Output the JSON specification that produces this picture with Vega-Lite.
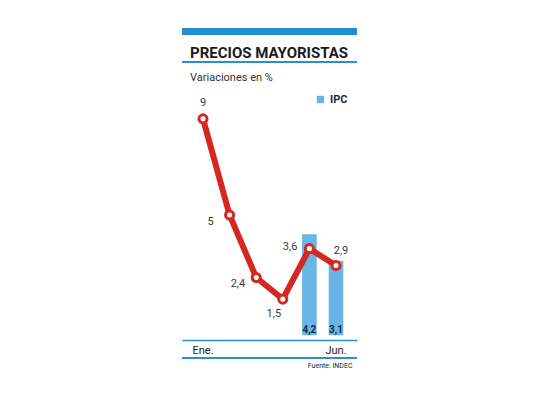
{
  "$schema": "https://vega.github.io/schema/vega-lite/v6.json",
  "description": "Precios mayoristas: variaciones mensuales en %, con IPC de mayo y junio.",
  "autosize": "none",
  "width": 175,
  "height": 250,
  "padding": {"left": 182, "top": 90, "right": 183, "bottom": 65},
  "background": "white",
  "title": {
    "text": "PRECIOS MAYORISTAS",
    "subtitle": "Variaciones en %",
    "anchor": "start",
    "frame": "group",
    "dx": 8,
    "offset": -55,
    "font": "Roboto",
    "fontSize": 15,
    "fontWeight": "bold",
    "color": "#1a1a1a",
    "subtitleFont": "Roboto",
    "subtitleFontSize": 11,
    "subtitleColor": "#333333",
    "subtitlePadding": 11
  },
  "data": {
    "values": [
      {"mes": "Ene.", "mayorista": 9, "ipc": null},
      {"mes": "Feb.", "mayorista": 5, "ipc": null},
      {"mes": "Mar.", "mayorista": 2.4, "ipc": null},
      {"mes": "Abr.", "mayorista": 1.5, "ipc": null},
      {"mes": "May.", "mayorista": 3.6, "ipc": 4.2},
      {"mes": "Jun.", "mayorista": 2.9, "ipc": 3.1}
    ]
  },
  "layer": [
    {
      "mark": {"type": "rule", "clip": false, "color": "#1e8fd0", "strokeWidth": 7},
      "encoding": {"y": {"datum": 12.63, "type": "quantitative", "scale": {"domain": [-0.2, 10.2], "nice": false, "zero": false}, "axis": null}}
    },
    {
      "mark": {"type": "rule", "clip": false, "color": "#2b8fcc", "strokeWidth": 1.5},
      "encoding": {"y": {"datum": 11.36, "type": "quantitative"}}
    },
    {
      "mark": {"type": "rule", "clip": false, "color": "#2b8fcc", "strokeWidth": 1.5},
      "encoding": {"y": {"datum": -0.95, "type": "quantitative"}}
    },
    {
      "encoding": {
        "x": {
          "field": "mes",
          "type": "ordinal",
          "sort": ["Ene.", "Feb.", "Mar.", "Abr.", "May.", "Jun."],
          "scale": {"paddingInner": 0.45, "paddingOuter": 0.515},
          "axis": {
            "labelAngle": 0,
            "ticks": false,
            "domainColor": "#2b8fcc",
            "domainWidth": 1.5,
            "labelExpr": "datum.value == 'Ene.' || datum.value == 'Jun.' ? datum.value : ''",
            "labelFont": "Roboto",
            "labelFontSize": 11,
            "labelColor": "#222222",
            "labelPadding": 4,
            "title": "Fuente: INDEC",
            "titleFont": "Roboto",
            "titleFontSize": 7,
            "titleFontWeight": "normal",
            "titleColor": "#222222",
            "titleAlign": "right",
            "titleBaseline": "middle",
            "titleX": 170,
            "titleY": 25
          }
        }
      },
      "layer": [
        {
          "mark": {"type": "bar"},
          "encoding": {
            "y": {"field": "ipc", "type": "quantitative"},
            "color": {
              "datum": "IPC",
              "type": "nominal",
              "scale": {"range": ["#68b6e8"]},
              "legend": {
                "orient": "none",
                "legendX": 133,
                "legendY": 4,
                "title": null,
                "symbolType": "square",
                "symbolSize": 55,
                "symbolStrokeWidth": 0,
                "labelFont": "Roboto",
                "labelFontSize": 11,
                "labelFontWeight": "bold",
                "labelColor": "#1d2a44"
              }
            }
          }
        },
        {
          "mark": {"type": "line", "color": "#d42820", "strokeWidth": 6},
          "encoding": {"y": {"field": "mayorista", "type": "quantitative"}}
        },
        {
          "mark": {"type": "point", "filled": true, "fill": "white", "stroke": "#d42820", "strokeWidth": 3, "size": 65, "opacity": 1},
          "encoding": {"y": {"field": "mayorista", "type": "quantitative"}}
        },
        {
          "transform": [{"filter": "datum.mes == 'Ene.'"}],
          "mark": {"type": "text", "align": "center", "baseline": "middle", "dy": -16, "font": "Roboto", "fontSize": 11, "color": "#3a3a3a", "text": {"expr": "replace(format(datum.mayorista, ''), '.', ',')"}},
          "encoding": {"y": {"field": "mayorista", "type": "quantitative"}}
        },
        {
          "transform": [{"filter": "datum.mes == 'Feb.'"}],
          "mark": {"type": "text", "align": "right", "baseline": "middle", "dx": -16, "dy": 7, "font": "Roboto", "fontSize": 11, "color": "#3a3a3a", "text": {"expr": "replace(format(datum.mayorista, ''), '.', ',')"}},
          "encoding": {"y": {"field": "mayorista", "type": "quantitative"}}
        },
        {
          "transform": [{"filter": "datum.mes == 'Mar.'"}],
          "mark": {"type": "text", "align": "right", "baseline": "middle", "dx": -11, "dy": 6, "font": "Roboto", "fontSize": 11, "color": "#3a3a3a", "text": {"expr": "replace(format(datum.mayorista, ''), '.', ',')"}},
          "encoding": {"y": {"field": "mayorista", "type": "quantitative"}}
        },
        {
          "transform": [{"filter": "datum.mes == 'Abr.'"}],
          "mark": {"type": "text", "align": "center", "baseline": "middle", "dx": -9, "dy": 15, "font": "Roboto", "fontSize": 11, "color": "#3a3a3a", "text": {"expr": "replace(format(datum.mayorista, ''), '.', ',')"}},
          "encoding": {"y": {"field": "mayorista", "type": "quantitative"}}
        },
        {
          "transform": [{"filter": "datum.mes == 'May.'"}],
          "mark": {"type": "text", "align": "right", "baseline": "middle", "dx": -12, "dy": -2, "font": "Roboto", "fontSize": 11, "color": "#3a3a3a", "text": {"expr": "replace(format(datum.mayorista, ''), '.', ',')"}},
          "encoding": {"y": {"field": "mayorista", "type": "quantitative"}}
        },
        {
          "transform": [{"filter": "datum.mes == 'Jun.'"}],
          "mark": {"type": "text", "align": "center", "baseline": "middle", "dx": 5, "dy": -14, "font": "Roboto", "fontSize": 11, "color": "#3a3a3a", "text": {"expr": "replace(format(datum.mayorista, ''), '.', ',')"}},
          "encoding": {"y": {"field": "mayorista", "type": "quantitative"}}
        },
        {
          "transform": [{"filter": "datum.ipc != null"}],
          "mark": {"type": "text", "align": "center", "baseline": "middle", "dy": -5, "font": "Roboto", "fontSize": 10, "fontWeight": "bold", "color": "#1d2a44", "text": {"expr": "replace(format(datum.ipc, ''), '.', ',')"}},
          "encoding": {"y": {"datum": 0, "type": "quantitative"}}
        }
      ]
    }
  ],
  "config": {
    "view": {"stroke": null}
  }
}
